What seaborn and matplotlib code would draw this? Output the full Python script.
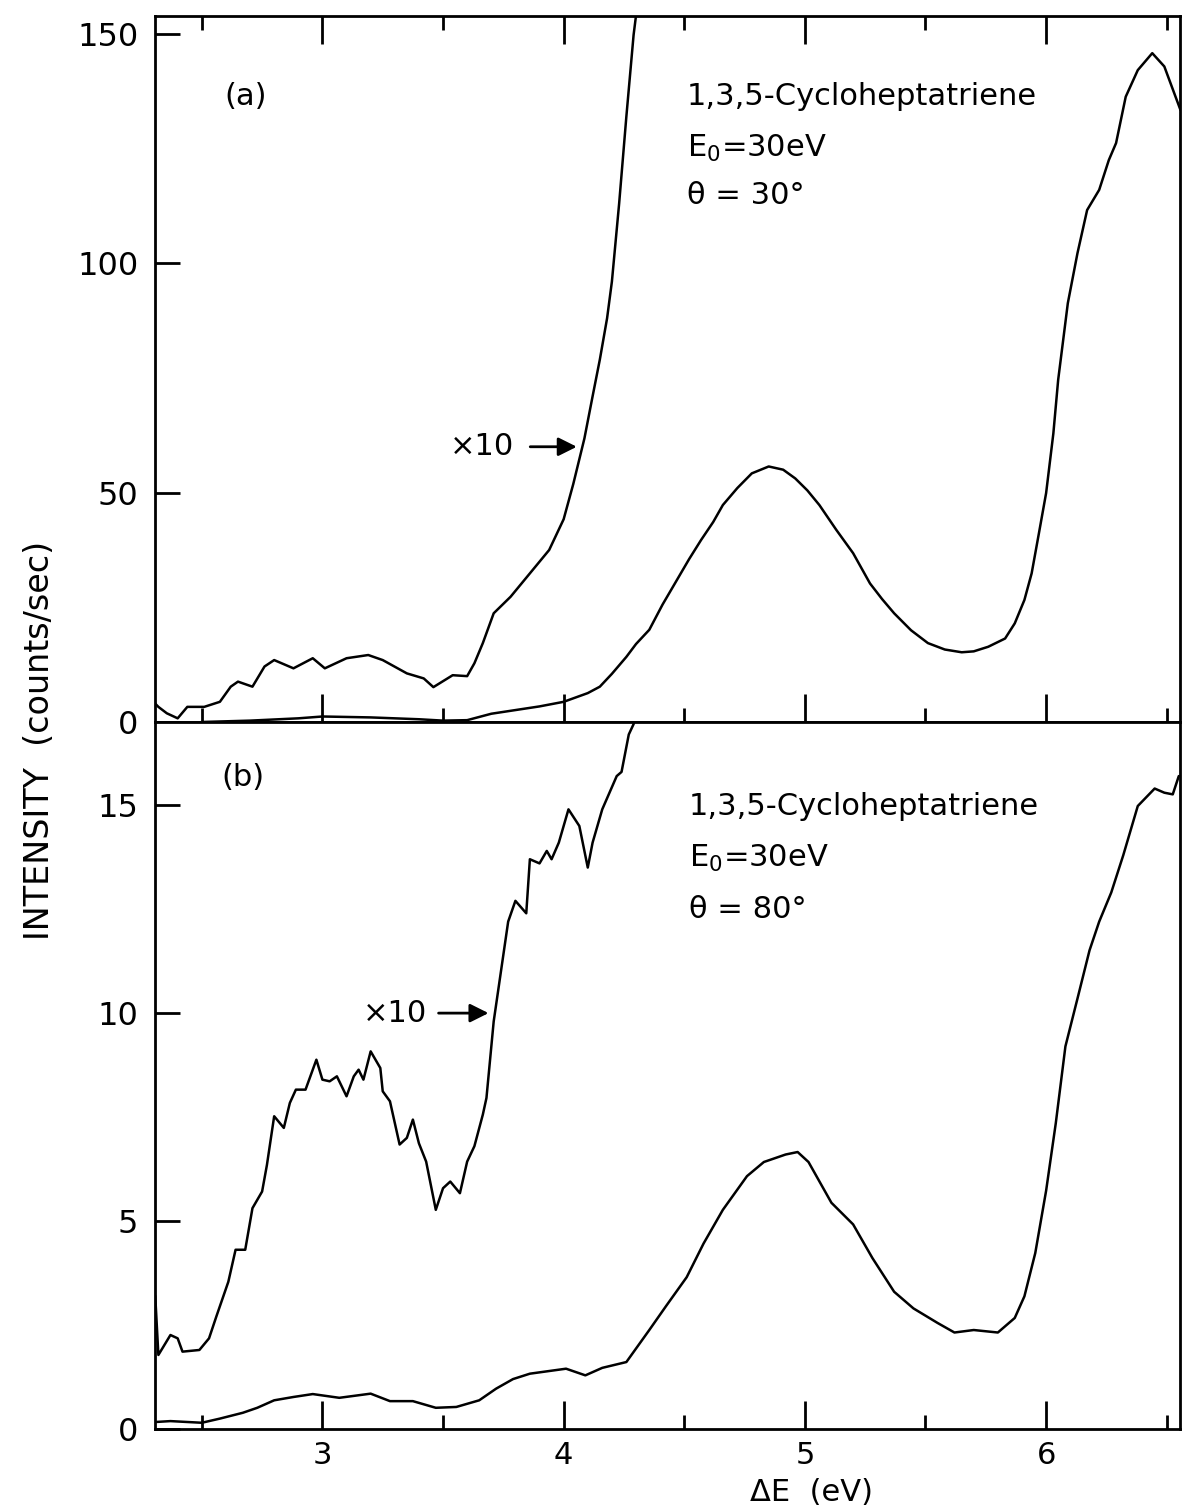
import numpy as np
import pandas as pd
import matplotlib
matplotlib.use("Agg")
import matplotlib.pyplot as plt
import seaborn as sns
from matplotlib.ticker import MultipleLocator

# ---------------- data ----------------
# Panel (a): theta = 30 deg, main spectrum
a_main_x = [2.50, 2.70, 2.90, 3.00, 3.20, 3.40, 3.50, 3.60, 3.70, 3.80, 3.90, 4.00,
            4.10, 4.15, 4.20, 4.26, 4.30, 4.355, 4.41, 4.47, 4.52, 4.57, 4.62, 4.66,
            4.72, 4.78, 4.85, 4.91, 4.96, 5.01, 5.06, 5.13, 5.20, 5.27, 5.32, 5.37,
            5.44, 5.51, 5.58, 5.65, 5.70, 5.76, 5.83, 5.87, 5.91, 5.94, 5.97, 6.00,
            6.03, 6.05, 6.09, 6.13, 6.17, 6.22, 6.26, 6.29, 6.33, 6.38, 6.44, 6.49,
            6.557]
a_main_y = [0.0, 0.3, 0.8, 1.2, 1.0, 0.6, 0.3, 0.4, 1.8, 2.6, 3.4, 4.4,
            6.3, 7.7, 10.5, 14.2, 17.0, 20.1, 25.6, 31.0, 35.5, 39.7, 43.6, 47.3,
            51.0, 54.2, 55.7, 55.0, 53.1, 50.5, 47.3, 41.9, 36.8, 30.2, 26.8, 23.7,
            20.0, 17.2, 15.8, 15.2, 15.4, 16.4, 18.2, 21.5, 26.6, 32.4, 41.1, 49.9,
            62.9, 74.6, 91.3, 102.2, 111.6, 116.0, 122.5, 126.2, 136.3, 142.1, 145.8, 142.9,
            133.4]

# Panel (a): x10 expanded trace
a_x10_x = [2.307, 2.32, 2.355, 2.40, 2.44, 2.51, 2.575, 2.62, 2.65, 2.71, 2.76, 2.80,
           2.88, 2.96, 3.01, 3.10, 3.19, 3.25, 3.35, 3.42, 3.46, 3.54, 3.60, 3.63,
           3.665, 3.71, 3.78, 3.86, 3.94, 4.00, 4.04, 4.086, 4.12, 4.15, 4.18, 4.20,
           4.23, 4.26, 4.29, 4.30, 4.31]
a_x10_y = [4.0, 3.3, 1.9, 0.8, 3.3, 3.3, 4.4, 7.7, 8.8, 7.7, 12.1, 13.5,
           11.7, 13.9, 11.7, 13.9, 14.6, 13.5, 10.6, 9.5, 7.6, 10.2, 10.0, 12.8,
           17.2, 23.7, 27.3, 32.4, 37.5, 44.2, 51.9, 61.8, 71.0, 79.0, 88.0, 96.0,
           113.0, 132.0, 149.8, 154.0, 160.0]

# Panel (b): theta = 80 deg, main spectrum
b_main_x = [2.313, 2.37, 2.50, 2.575, 2.67, 2.73, 2.80, 2.88, 2.96, 3.07, 3.20, 3.28,
            3.375, 3.47, 3.555, 3.65, 3.72, 3.79, 3.86, 4.01, 4.09, 4.16, 4.26, 4.355,
            4.425, 4.51, 4.58, 4.66, 4.76, 4.83, 4.92, 4.97, 5.015, 5.11, 5.20, 5.28,
            5.37, 5.45, 5.55, 5.62, 5.70, 5.80, 5.87, 5.91, 5.955, 6.00, 6.04, 6.08,
            6.13, 6.18, 6.22, 6.27, 6.32, 6.38, 6.45, 6.49, 6.525, 6.55]
b_main_y = [0.17, 0.19, 0.15, 0.25, 0.39, 0.51, 0.69, 0.77, 0.84, 0.75, 0.85, 0.67,
            0.67, 0.51, 0.53, 0.69, 0.97, 1.20, 1.33, 1.45, 1.29, 1.47, 1.61, 2.38,
            2.96, 3.65, 4.46, 5.27, 6.08, 6.42, 6.60, 6.66, 6.42, 5.44, 4.92, 4.11,
            3.30, 2.90, 2.55, 2.32, 2.38, 2.32, 2.67, 3.19, 4.23, 5.73, 7.35, 9.20,
            10.35, 11.51, 12.20, 12.90, 13.80, 14.98, 15.40, 15.30, 15.26, 15.70]

# Panel (b): x10 expanded trace
b_x10_x = [2.307, 2.32, 2.37, 2.40, 2.42, 2.49, 2.53, 2.56, 2.61, 2.64, 2.68, 2.71,
           2.75, 2.77, 2.80, 2.84, 2.865, 2.89, 2.93, 2.975, 3.00, 3.03, 3.06, 3.10,
           3.13, 3.15, 3.17, 3.20, 3.24, 3.25, 3.28, 3.32, 3.35, 3.375, 3.40, 3.43,
           3.47, 3.50, 3.53, 3.57, 3.60, 3.63, 3.665, 3.68, 3.71, 3.77, 3.80, 3.845,
           3.86, 3.90, 3.93, 3.95, 3.98, 4.02, 4.065, 4.10, 4.12, 4.16, 4.22, 4.24,
           4.27, 4.29, 4.30]
b_x10_y = [3.2, 1.78, 2.26, 2.18, 1.86, 1.90, 2.18, 2.70, 3.54, 4.31, 4.31, 5.31,
           5.71, 6.35, 7.52, 7.24, 7.84, 8.16, 8.16, 8.88, 8.40, 8.36, 8.48, 8.00,
           8.48, 8.64, 8.40, 9.08, 8.68, 8.12, 7.88, 6.84, 7.00, 7.44, 6.87, 6.43,
           5.27, 5.79, 5.95, 5.67, 6.43, 6.80, 7.56, 7.96, 9.80, 12.20, 12.70, 12.40,
           13.70, 13.60, 13.90, 13.70, 14.10, 14.90, 14.50, 13.50, 14.10, 14.90, 15.70, 15.80,
           16.70, 16.95, 17.30]

x_major = [3, 4, 5, 6]
x_tick_labels = ["3", "4", "5", "6"]
a_yticks = [0, 50, 100, 150]
b_yticks = [0, 5, 10, 15]

# ---------------- figure ----------------
sns.set_theme(style="ticks")
plt.rcParams["font.family"] = ["DejaVu Sans"]
plt.rcParams["text.color"] = "black"
plt.rcParams["xtick.color"] = "black"
plt.rcParams["ytick.color"] = "black"
plt.rcParams["axes.labelcolor"] = "black"

W, H = 1182, 1511
fig = plt.figure(figsize=(W / 100, H / 100), dpi=100)
left, right = 155 / W, 1180 / W
mid = 1 - 722 / H
top = 1 - 16 / H
bot = 1 - 1429 / H
ax_a = fig.add_axes([left, mid, right - left, top - mid])
ax_b = fig.add_axes([left, bot, right - left, mid - bot], sharex=ax_a)

lw = 1.8
dfa1 = pd.DataFrame({"E": a_main_x, "I": a_main_y})
dfa2 = pd.DataFrame({"E": a_x10_x, "I": a_x10_y})
dfb1 = pd.DataFrame({"E": b_main_x, "I": b_main_y})
dfb2 = pd.DataFrame({"E": b_x10_x, "I": b_x10_y})
sns.lineplot(data=dfa1, x="E", y="I", ax=ax_a, color="black", lw=lw, sort=False)
sns.lineplot(data=dfa2, x="E", y="I", ax=ax_a, color="black", lw=lw, sort=False)
sns.lineplot(data=dfb1, x="E", y="I", ax=ax_b, color="black", lw=lw, sort=False)
sns.lineplot(data=dfb2, x="E", y="I", ax=ax_b, color="black", lw=lw, sort=False)

ax_a.set_xlim(2.306, 6.555)
ax_a.set_ylim(0, 153.9)
ax_b.set_ylim(0, 17.0)

for ax in (ax_a, ax_b):
    for s in ax.spines.values():
        s.set_visible(True)
        s.set_linewidth(2.0)
        s.set_color("black")
    ax.set_xlabel("")
    ax.set_ylabel("")
    ax.xaxis.set_major_locator(MultipleLocator(1))
    ax.xaxis.set_minor_locator(MultipleLocator(0.5))

ax_a.set_yticks(a_yticks)
ax_b.set_yticks(b_yticks)

ax_a.tick_params(axis="x", which="both", direction="in", top=True, bottom=True,
                 labelbottom=False, width=2)
ax_a.tick_params(axis="x", which="major", length=20)
ax_a.tick_params(axis="x", which="minor", length=10)
ax_b.tick_params(axis="x", which="both", direction="in", top=False, bottom=True,
                 labelbottom=True, width=2, labelsize=22, pad=9)
ax_b.tick_params(axis="x", which="major", length=20)
ax_b.tick_params(axis="x", which="minor", length=10)
ax_b.set_xticks(x_major)
ax_b.set_xticklabels(x_tick_labels)
for ax in (ax_a, ax_b):
    ax.tick_params(axis="y", which="major", direction="in", length=18, width=2,
                   labelsize=23, pad=12, left=True, right=False)

# annotations
fs = 22
ax_a.text(2.68, 136.3, "(a)", fontsize=fs, ha="center", va="center")
ax_a.text(4.51, 136.3, "1,3,5-Cycloheptatriene", fontsize=fs, ha="left", va="center")
ax_a.text(4.51, 125.1, "E$_\\mathrm{0}$=30eV", fontsize=fs, ha="left", va="center")
ax_a.text(4.51, 114.7, "θ = 30°", fontsize=fs, ha="left", va="center")
ax_a.text(3.66, 60, "×10", fontsize=fs, ha="center", va="center")
ax_a.annotate("", xy=(4.066, 60), xytext=(3.85, 60),
              arrowprops=dict(arrowstyle="-|>", color="black", lw=2, mutation_scale=28))

ax_b.text(2.67, 15.66, "(b)", fontsize=fs, ha="center", va="center")
ax_b.text(4.52, 14.96, "1,3,5-Cycloheptatriene", fontsize=fs, ha="left", va="center")
ax_b.text(4.52, 13.73, "E$_\\mathrm{0}$=30eV", fontsize=fs, ha="left", va="center")
ax_b.text(4.52, 12.5, "θ = 80°", fontsize=fs, ha="left", va="center")
ax_b.text(3.30, 10.0, "×10", fontsize=fs, ha="center", va="center")
ax_b.annotate("", xy=(3.70, 10.0), xytext=(3.47, 10.0),
              arrowprops=dict(arrowstyle="-|>", color="black", lw=2, mutation_scale=28))

fig.text(40 / W, 1 - 740 / H, "INTENSITY  (counts/sec)", rotation=90,
         fontsize=24, ha="center", va="center")
fig.text(812 / W, 1 - 1507 / H, "ΔE  (eV)", fontsize=22, ha="center", va="bottom")

fig.savefig("out.png", dpi=100, facecolor="white")
